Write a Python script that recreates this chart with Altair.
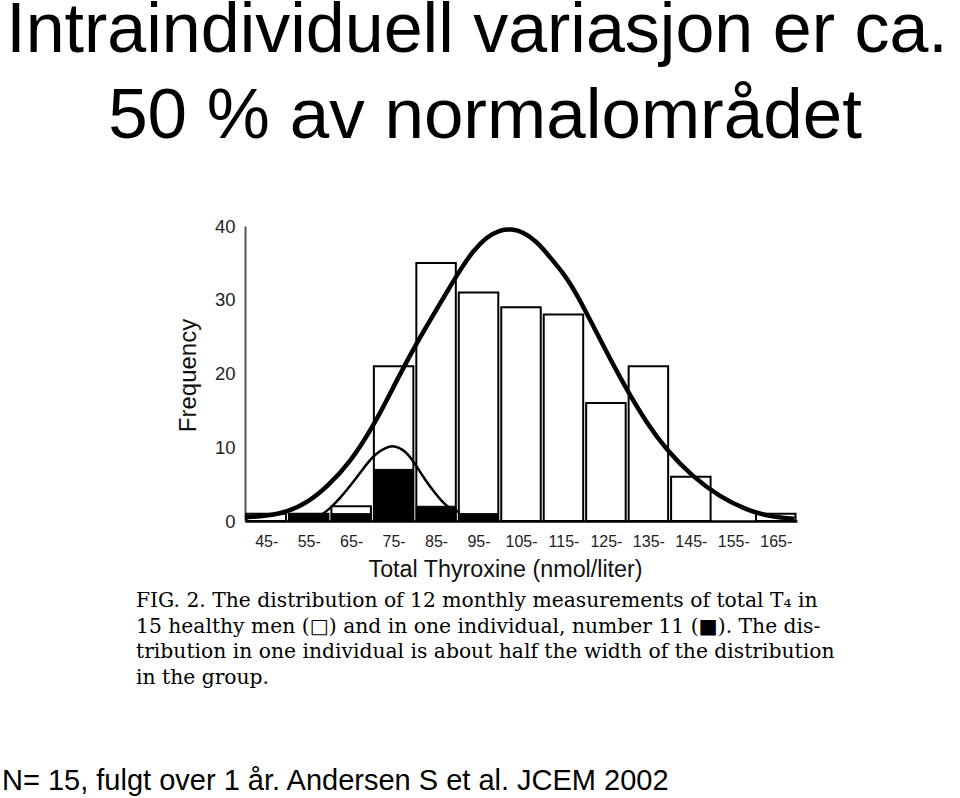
import altair as alt
import pandas as pd

# ---------------- data ----------------
bin_lo = [40, 50, 60, 70, 80, 90, 100, 110, 120, 130, 140, 150, 160]
bin_hi = [50, 60, 70, 80, 90, 100, 110, 120, 130, 140, 150, 160, 170]
group_counts = [1, 1, 2, 21, 35, 31, 29, 28, 16, 21, 6, 0, 1]
individual_counts = [0, 1, 1, 7, 2, 1, 0, 0, 0, 0, 0, 0, 0]
tick_values = [45, 55, 65, 75, 85, 95, 105, 115, 125, 135, 145, 155, 165]

# curves (x in nmol/liter, y in frequency)
group_curve_x = [40, 45, 49.9, 55, 59.3, 64.7, 70.1, 74.8, 79.5, 84.2, 87.5, 90.6, 93.8,
                 96.9, 100.1, 102.8, 105.5, 108.7, 111.8, 115.0, 118.1, 125.2, 129.9,
                 134.6, 139.3, 145.4, 151.8, 158.1, 163.5, 169.4]
group_curve_y = [0.5, 0.7, 1.2, 2.6, 4.6, 7.9, 12.7, 18.0, 23.2, 27.8, 31.0, 34.0, 36.7,
                 38.5, 39.5, 39.6, 39.2, 37.9, 35.8, 33.6, 30.9, 22.8, 17.8,
                 13.3, 9.6, 6.0, 3.3, 1.5, 0.6, 0.3]
indiv_curve_x = [54.5, 57.7, 60.0, 62.4, 64.7, 67.1, 69.4, 71.0, 73.0, 74.9, 77.7, 80.0,
                 82.4, 84.7, 87.1, 88.3, 90.5]
indiv_curve_y = [0.1, 0.6, 1.7, 3.1, 4.7, 6.5, 8.3, 9.2, 9.9, 10.3, 9.6, 7.8,
                 5.6, 3.8, 2.2, 1.7, 1.2]

title_lines = ["Intraindividuell variasjon er ca.", "50 % av normalområdet"]
caption_lines = [
    "FIG. 2. The distribution of 12 monthly measurements of total T\u2084 in",
    "15 healthy men (\u25a1) and in one individual, number 11 (\u25a0). The dis-",
    "tribution in one individual is about half the width of the distribution",
    "in the group.",
]
footer_text = "N= 15, fulgt over 1 år. Andersen S et al. JCEM 2002"
y_title = "Frequency"
x_title = "Total Thyroxine (nmol/liter)"

# ---------------- tables ----------------
bars = pd.DataFrame({"lo": bin_lo, "hi": bin_hi, "group": group_counts,
                     "indiv": individual_counts})
gcurve = pd.DataFrame({"x": group_curve_x, "y": group_curve_y})
icurve = pd.DataFrame({"x": indiv_curve_x, "y": indiv_curve_y})

SANS = "Liberation Sans"
SERIF = "DejaVu Serif"

xscale = alt.Scale(domain=[40, 170], nice=False, zero=False)
yscale = alt.Scale(domain=[0, 40], nice=False)

xaxis = alt.Axis(values=tick_values, labelExpr="datum.value + '-'", ticks=False, tickSize=0,
                 grid=False, labelFontSize=16, labelFont=SANS, labelColor="#222",
                 labelPadding=12, domainColor="black", domainWidth=2.5,
                 title=x_title, titleFont=SANS, titleFontSize=23.3, titleFontWeight="normal",
                 titleColor="#111", titleX=260, titleY=55, titleBaseline="alphabetic",
                 titleAlign="center")
yaxis = alt.Axis(values=[0, 10, 20, 30, 40], ticks=False, tickSize=0, grid=False,
                 labelFontSize=18.5, labelFont=SANS, labelColor="#222", labelPadding=10,
                 domainColor="#555", domainWidth=2,
                 title=y_title, titleFont=SANS, titleFontSize=24, titleFontWeight="normal",
                 titleColor="#111", titleAngle=-90, titleX=-50, titleY=149,
                 titleBaseline="alphabetic", titleAlign="center")

base = alt.Chart(bars).transform_calculate(x0="datum.lo + 0.35", x1="datum.hi - 0.35")

open_bars = base.transform_filter("datum.group > 0").mark_rect(
    fill="white", stroke="black", strokeWidth=2
).encode(
    x=alt.X("x0:Q", scale=xscale, axis=xaxis),
    x2="x1:Q",
    y=alt.Y("group:Q", scale=yscale, axis=yaxis),
    y2=alt.datum(0),
)

black_bars = base.transform_filter("datum.indiv > 0").mark_rect(
    fill="black", stroke="black", strokeWidth=1
).encode(
    x=alt.X("x0:Q", scale=xscale),
    x2="x1:Q",
    y=alt.Y("indiv:Q", scale=yscale),
    y2=alt.datum(0),
)

big_line = alt.Chart(gcurve).mark_line(
    color="black", strokeWidth=4.5, interpolate="basis"
).encode(x=alt.X("x:Q", scale=xscale), y=alt.Y("y:Q", scale=yscale))

small_line = alt.Chart(icurve).mark_line(
    color="black", strokeWidth=2.5, interpolate="basis"
).encode(x=alt.X("x:Q", scale=xscale), y=alt.Y("y:Q", scale=yscale))


def text_layer(txt, px, py, size, font, align="left"):
    return alt.Chart(pd.DataFrame({"t": [txt]})).mark_text(
        font=font, fontSize=size, align=align, baseline="alphabetic", color="black"
    ).encode(x=alt.value(px), y=alt.value(py), text="t:N")


texts = [
    text_layer(title_lines[0], 232, -174, 70, SANS, "center"),
    text_layer(title_lines[1], 240, -88, 71, SANS, "center"),
    text_layer(footer_text, -243, 564, 29, SANS),
]
cap_y = [381, 407, 432, 458]
for line, cy in zip(caption_lines, cap_y):
    texts.append(text_layer(line, -109, cy, 20.3, SERIF))

chart = alt.layer(open_bars, black_bars, big_line, small_line, *texts).properties(
    width=552, height=295,
    autosize=alt.AutoSizeParams(type="none"),
    padding={"left": 245, "top": 226, "right": 163, "bottom": 277},
    background="white",
).configure_view(stroke=None)

chart.save("out.html", embed_options={"renderer": "svg", "actions": False})
